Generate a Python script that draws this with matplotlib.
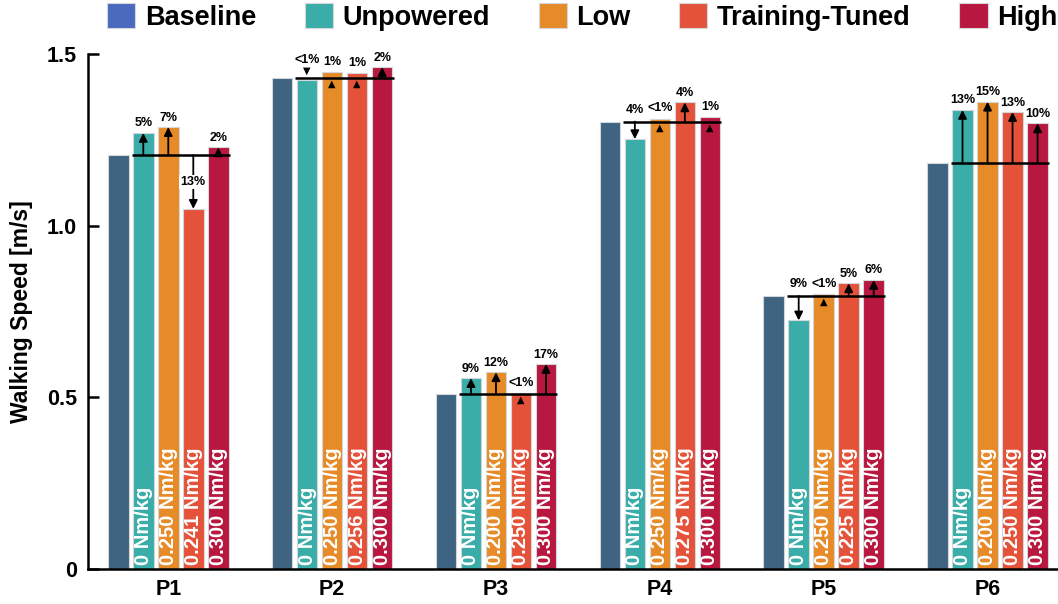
import numpy as np
import matplotlib
matplotlib.use("Agg")
import matplotlib.pyplot as plt
from matplotlib.patches import Patch

plt.rcParams['font.family'] = ['Liberation Sans', 'DejaVu Sans']
plt.rcParams['font.weight'] = 'bold'

# data
participants = ["P1", "P2", "P3", "P4", "P5", "P6"]
conditions = ["Baseline", "Unpowered", "Low", "Training-Tuned", "High"]
baseline = [1.206, 1.430, 0.510, 1.303, 0.795, 1.182]
unpowered = [1.270, 1.424, 0.556, 1.252, 0.724, 1.337]
low = [1.287, 1.447, 0.573, 1.312, 0.800, 1.361]
tuned = [1.049, 1.445, 0.513, 1.359, 0.832, 1.331]
high = [1.228, 1.462, 0.597, 1.317, 0.842, 1.298]

torque_labels = [
    ["0 Nm/kg", "0.250 Nm/kg", "0.241 Nm/kg", "0.300 Nm/kg"],
    ["0 Nm/kg", "0.250 Nm/kg", "0.256 Nm/kg", "0.300 Nm/kg"],
    ["0 Nm/kg", "0.200 Nm/kg", "0.250 Nm/kg", "0.300 Nm/kg"],
    ["0 Nm/kg", "0.250 Nm/kg", "0.275 Nm/kg", "0.300 Nm/kg"],
    ["0 Nm/kg", "0.250 Nm/kg", "0.225 Nm/kg", "0.300 Nm/kg"],
    ["0 Nm/kg", "0.200 Nm/kg", "0.250 Nm/kg", "0.300 Nm/kg"],
]
pct_labels = [
    ["5%", "7%", "13%", "2%"],
    ["<1%", "1%", "1%", "2%"],
    ["9%", "12%", "<1%", "17%"],
    ["4%", "<1%", "4%", "1%"],
    ["9%", "<1%", "5%", "6%"],
    ["13%", "15%", "13%", "10%"],
]

bar_colors = ["#3e6482", "#3aada8", "#e68b28", "#e4523a", "#b8173f"]
legend_colors = ["#4a6bbd", "#3aada8", "#e68b28", "#e4523a", "#b8173f"]

series = [baseline, unpowered, low, tuned, high]
pitch = 0.1526
width = 0.125
x = np.arange(len(participants))

fig = plt.figure(figsize=(10.58, 6.04), dpi=100)
ax = fig.add_axes([88/1058, 35/604, 970/1058, 515/604])

for k, vals in enumerate(series):
    ax.bar(x + (k - 2) * pitch, vals, width, color=bar_colors[k],
           edgecolor="#d3d7db", linewidth=0.8, zorder=2)

for g in range(len(participants)):
    b = baseline[g]
    # baseline reference line over the four conditions
    ax.plot([x[g] - 1.47 * pitch, x[g] + 2.46 * pitch], [b, b],
            color="black", lw=1.8, zorder=4, solid_capstyle="butt")
    for k in range(1, 5):
        xc = x[g] + (k - 2) * pitch
        v = series[k][g]
        rel = (v - b) / b
        ax.text(xc, 0.012, torque_labels[g][k - 1], rotation=90, ha="center",
                va="bottom", color="white", fontsize=14.5, zorder=5)
        if abs(rel) >= 0.015:
            ax.annotate("", xy=(xc, v), xytext=(xc, b), zorder=5,
                        arrowprops=dict(arrowstyle="-|>,head_length=0.5,head_width=0.25",
                                        mutation_scale=10, lw=1.3, color="black",
                                        shrinkA=0, shrinkB=0))
            if rel < -0.1:
                ax.text(xc, (b + v) / 2, pct_labels[g][k - 1], ha="center",
                        va="center", fontsize=9, zorder=6,
                        bbox=dict(facecolor="white", edgecolor="none", pad=1))
            elif rel < 0:
                ax.annotate(pct_labels[g][k - 1], (xc, b), xytext=(0, 4),
                            textcoords="offset points", ha="center",
                            va="bottom", fontsize=9)
            else:
                ax.annotate(pct_labels[g][k - 1], (xc, v), xytext=(0, 2.5),
                            textcoords="offset points", ha="center",
                            va="bottom", fontsize=9)
        else:
            # tiny change: just a small triangle at the line
            if rel >= 0:
                ax.annotate("\u25B2", (xc, b), xytext=(0, -0.5),
                            textcoords="offset points", ha="center",
                            va="top", fontsize=7, zorder=5,
                            family="DejaVu Sans")
                ax.annotate(pct_labels[g][k - 1], (xc, max(v, b)),
                            xytext=(0, 3), textcoords="offset points",
                            ha="center", va="bottom", fontsize=9)
            else:
                ax.annotate("\u25BC", (xc, b), xytext=(0, 1.5),
                            textcoords="offset points", ha="center",
                            va="bottom", fontsize=7, zorder=5,
                            family="DejaVu Sans")
                ax.annotate(pct_labels[g][k - 1], (xc, b), xytext=(0, 8.5),
                            textcoords="offset points", ha="center",
                            va="bottom", fontsize=9)

ax.set_xlim(-0.49, 5.43)
ax.set_ylim(0, 1.5)
ax.set_yticks([0, 0.5, 1.0, 1.5])
ax.set_yticklabels(["0", "0.5", "1.0", "1.5"], fontsize=15.5)
ax.set_xticks(x)
ax.set_xticklabels(participants, fontsize=15.5)
ax.tick_params(axis="y", direction="in", length=8, width=1.8, pad=8)
ax.tick_params(axis="x", length=0, pad=7)
ax.set_ylabel("Walking Speed [m/s]", fontsize=16.5, fontweight="bold", labelpad=10)
for s in ["top", "right"]:
    ax.spines[s].set_visible(False)
for s in ["left", "bottom"]:
    ax.spines[s].set_linewidth(1.8)

handles = [Patch(facecolor=c, edgecolor="#d3d7db", lw=0.8) for c in legend_colors]
fig.legend(handles, conditions, loc="upper left", bbox_to_anchor=(107/1058, 1 - 3/604),
           ncol=5, frameon=False, prop=dict(size=19.5, weight="bold"),
           handlelength=1.04, handleheight=1.04, handletextpad=0.35,
           columnspacing=1.8, borderpad=0, borderaxespad=0)

fig.savefig("out.png", dpi=100)
